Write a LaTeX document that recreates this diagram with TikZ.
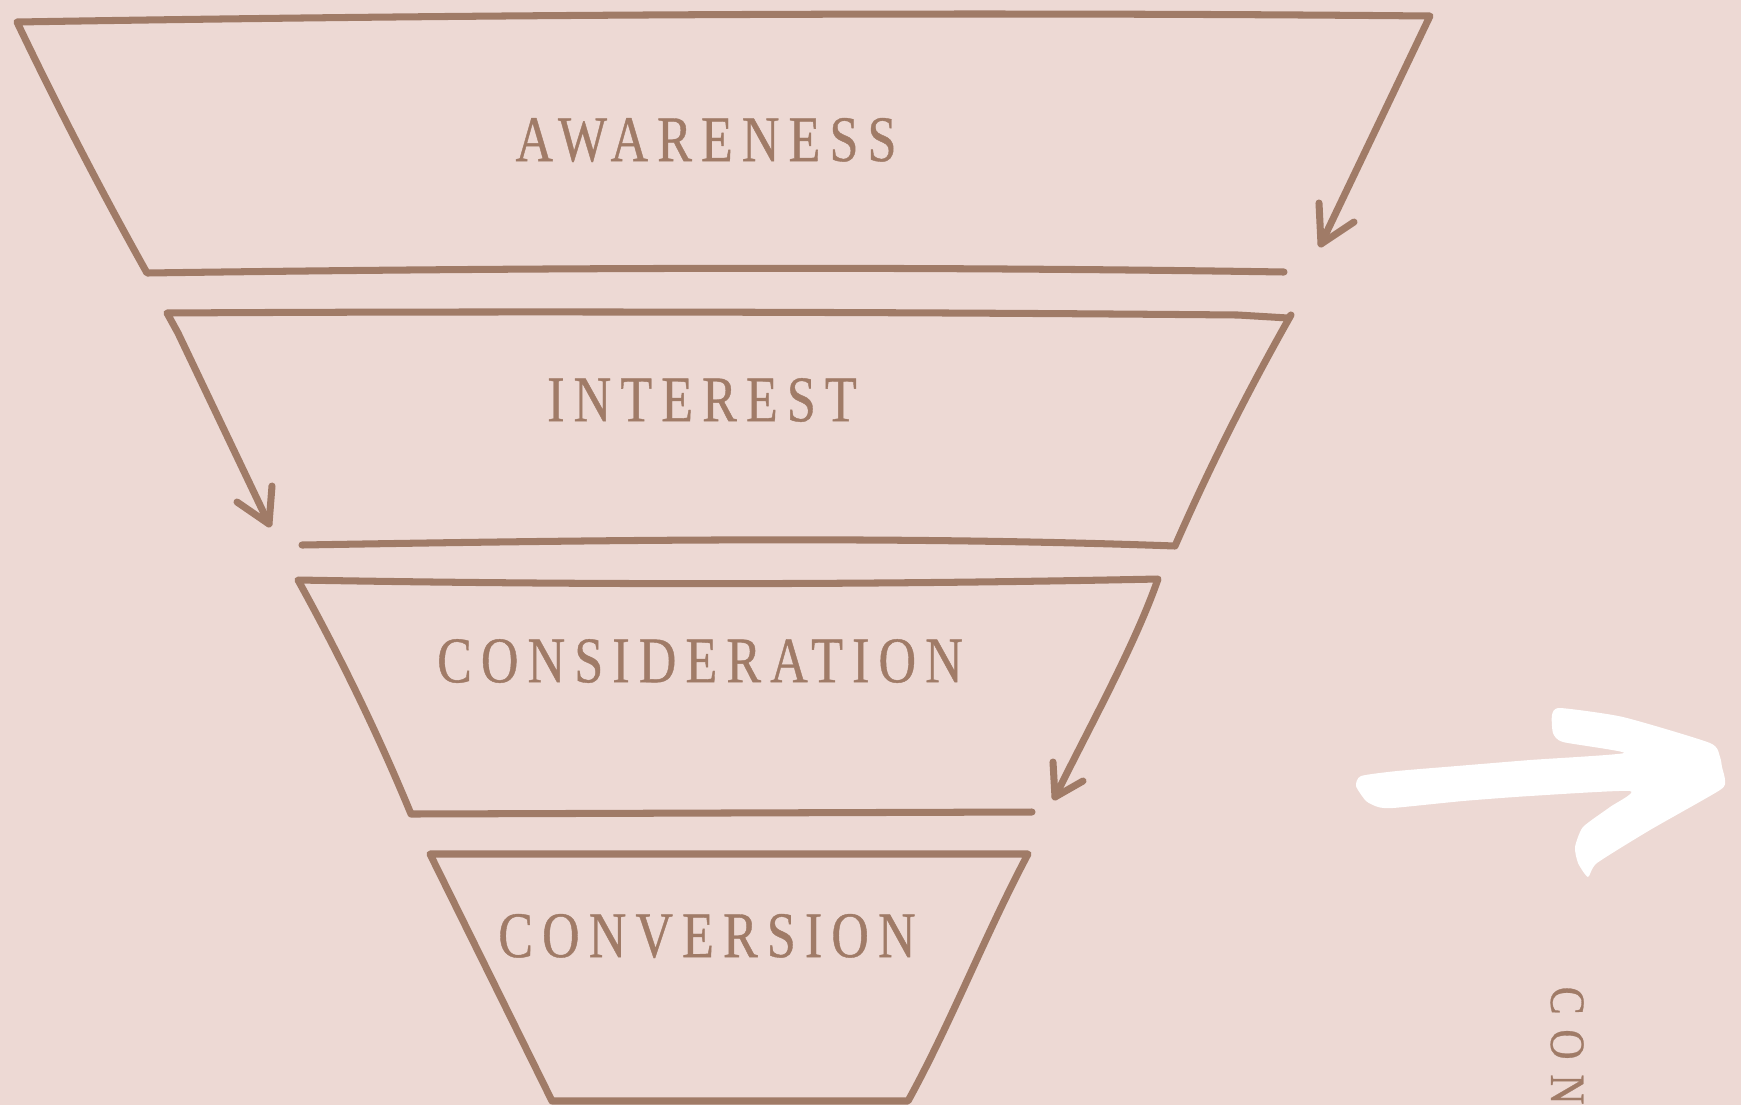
\documentclass[tikz,border=0pt]{standalone}
\usepackage{fontspec}
\setmainfont{Liberation Serif}
\newfontfamily\stagefont{Liberation Serif}[FakeStretch=0.8,LetterSpace=14,FakeBold=0.6]
\newfontfamily\sidefont{Liberation Serif}[FakeStretch=0.85,LetterSpace=30,FakeBold=0.6]
\definecolor{blush}{RGB}{237,217,212}
\definecolor{clay}{RGB}{160,123,103}
\tikzset{
  band/.style  ={draw=clay, line width=2pt, line cap=round, line join=round},
  stage/.style ={font=\stagefont\fontsize{18.5}{20}\selectfont, text=clay, inner sep=0pt},
  side/.style  ={font=\sidefont\fontsize{14}{16}\selectfont, text=clay, inner sep=0pt}
}

\begin{document}
\begin{tikzpicture}[x=0.01cm, y=-0.01cm]
  \fill[blush] (0,0) rectangle (1741,1105);
  \useasboundingbox (0,0) rectangle (1741,1105);

  % top band
  \draw[band] (1284,272) .. controls (900,266) and (500,268) .. (147,273)
              .. controls (105,198) and (60,112) .. (17,22)
              .. controls (500,14) and (1000,12) .. (1430,16)
              -- (1321,244);
  \draw[band] (1319,203) -- (1321,244) -- (1354,222);
  \node[stage] (aware) at (706,140) {AWARENESS};

  % second band
  \draw[band] (269,524) -- (178,333) -- (167,313)
              .. controls (500,311) and (900,312) .. (1238,315)
              -- (1288,318) -- (1291,315)
              .. controls (1248,391) and (1210,466) .. (1175,546)
              .. controls (900,536) and (600,540) .. (302,545);
  \draw[band] (272,486) -- (269,524) -- (237,502);
  \node[stage] (inter) at (702,400) {INTEREST};

  % third band
  \draw[band] (1055,797) .. controls (1090,726) and (1135,645) .. (1158,579)
              .. controls (870,585) and (580,585) .. (298,580)
              .. controls (340,656) and (378,734) .. (411,814)
              -- (1032,812);
  \draw[band] (1053,762) -- (1055,797) -- (1083,781);
  \node[stage] (consid) at (700,661) {CONSIDERATION};

  % bottom band
  \draw[band] (430,854) -- (1028,854)
              .. controls (985,935) and (950,1025) .. (908,1101)
              -- (552,1101) -- cycle;
  \node[stage] (conv) at (707,936) {CONVERSION};

  % brush arrow
  \fill[white] plot[smooth cycle, tension=0.35] coordinates {
    (1356,786) (1361,776) (1397,771) (1457,766) (1530,760) (1624,753)
    (1563,742) (1553,733) (1552,715) (1560,708) (1623,717) (1710,743)
    (1720,757) (1722,767) (1725,780) (1720,790) (1650,830) (1597,863)
    (1588,877) (1578,863) (1575,847) (1583,827) (1610,807) (1630,791)
    (1530,796) (1463,801) (1393,808) (1378,807) (1366,801)};

  \node[side, rotate=-90, anchor=west] (sidelabel) at (1567,986) {CONVERSION};
\end{tikzpicture}
\end{document}
